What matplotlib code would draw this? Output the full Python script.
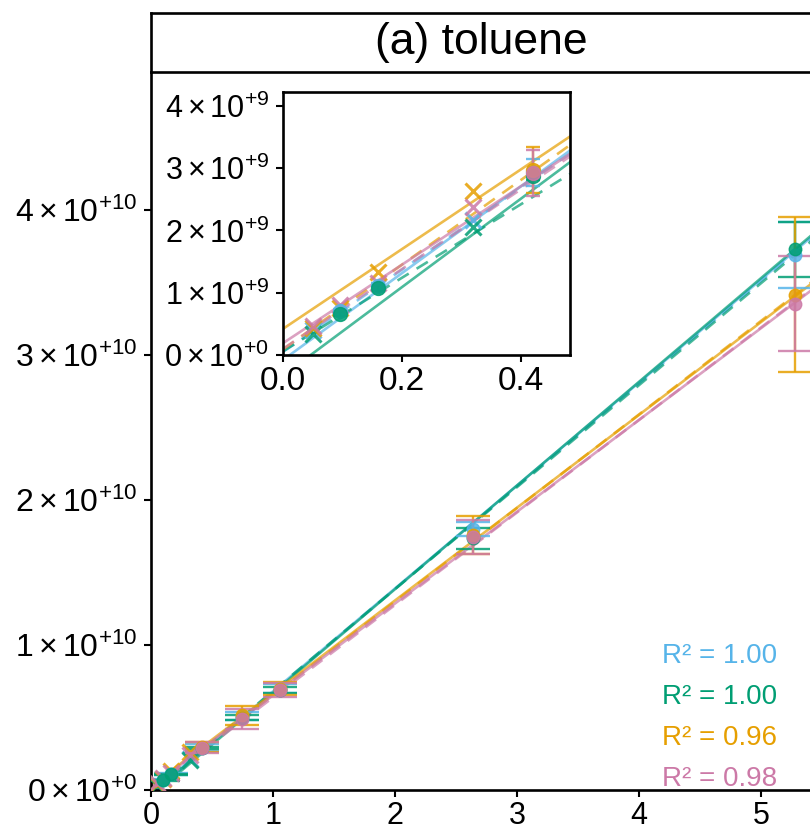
import matplotlib
matplotlib.use('Agg')
import matplotlib.pyplot as plt
import numpy as np
from matplotlib.ticker import FixedLocator, FixedFormatter

plt.rcParams['font.family'] = ['Liberation Sans', 'DejaVu Sans']
plt.rcParams['mathtext.fontset'] = 'custom'
plt.rcParams['mathtext.rm'] = 'Liberation Sans'
plt.rcParams['mathtext.it'] = 'Liberation Sans:italic'
plt.rcParams['mathtext.bf'] = 'Liberation Sans:bold'

# ---------------- data ----------------
series_names = ['blue', 'green', 'orange', 'pink']
series_colors = ['#56B4E9', '#009E73', '#E69F00', '#CC79A7']
nan = np.nan

# averaged calibration points (circles with error bars)
x_mean = [0.095, 0.16, 0.42, 0.75, 1.06, 2.64, 5.28]
blue_mean = [0.70e9, 1.10e9, 2.93e9, 5.10e9, 7.00e9, 1.800e10, 3.69e10]
blue_err = [0.04e9, 0.05e9, 0.22e9, 0.25e9, 0.30e9, 0.50e9, 2.30e9]
green_mean = [0.66e9, 1.07e9, 2.875e9, 5.00e9, 6.90e9, 1.735e10, 3.73e10]
green_err = [0.03e9, 0.04e9, 0.065e9, 0.20e9, 0.20e9, 0.75e9, 1.90e9]
orange_mean = [nan, nan, 2.97e9, 5.15e9, 7.00e9, 1.760e10, 3.415e10]
orange_err = [nan, nan, 0.37e9, 0.65e9, 0.47e9, 1.30e9, 5.35e9]
pink_mean = [nan, nan, 2.92e9, 4.90e9, 6.90e9, 1.745e10, 3.355e10]
pink_err = [nan, nan, 0.37e9, 0.70e9, 0.50e9, 1.15e9, 3.25e9]

# individual low-concentration points (crosses)
x_ind = [0.05, 0.095, 0.16, 0.32]
blue_ind = [0.40e9, nan, nan, 2.17e9]
green_ind = [0.33e9, nan, nan, 2.05e9]
orange_ind = [0.44e9, 0.76e9, 1.33e9, 2.64e9]
pink_ind = [0.47e9, 0.80e9, 1.15e9, 2.38e9]

# fitted lines (intercept, slope): main panel
main_solid_icpt = [-0.03e10, -0.045e10, 0.027e10, 0.02e10]
main_solid_slope = [0.710e10, 0.715e10, 0.640e10, 0.633e10]
main_dash_icpt = [-0.03e10, -0.02e10, 0.01e10, 0.0]
main_dash_slope = [0.708e10, 0.703e10, 0.645e10, 0.638e10]
# fitted lines: inset (fit on visible range only)
inset_solid_icpt = [-0.08e9, -0.33e9, 0.42e9, 0.19e9]
inset_solid_slope = [6.97e9, 7.10e9, 6.40e9, 6.30e9]
inset_dash_icpt = [0.05e9, 0.06e9, 0.09e9, 0.10e9]
inset_dash_slope = [6.6e9, 5.9e9, 6.8e9, 6.4e9]

r2_labels = ['R² = 1.00', 'R² = 1.00', 'R² = 0.96', 'R² = 0.98']

main_xticks = [0, 1, 2, 3, 4, 5]
main_xticklabels = ['0', '1', '2', '3', '4', '5']
main_yticks = [0, 1e10, 2e10, 3e10, 4e10]
main_yticklabels = [r'$0\times10^{+0}$', r'$1\times10^{+10}$', r'$2\times10^{+10}$',
                    r'$3\times10^{+10}$', r'$4\times10^{+10}$']
inset_xticks = [0.0, 0.2, 0.4]
inset_xticklabels = ['0.0', '0.2', '0.4']
inset_yticks = [0, 1e9, 2e9, 3e9, 4e9]
inset_yticklabels = [r'$0\times10^{+0}$', r'$1\times10^{+9}$', r'$2\times10^{+9}$',
                     r'$3\times10^{+9}$', r'$4\times10^{+9}$']
title = '(a) toluene'

means = [blue_mean, green_mean, orange_mean, pink_mean]
errs = [blue_err, green_err, orange_err, pink_err]
inds = [blue_ind, green_ind, orange_ind, pink_ind]

# ---------------- figure ----------------
W, H = 810, 834
fig = plt.figure(figsize=(W / 100, H / 100), dpi=100)


def px_axes(l, t, r, b):
    return [l / W, (H - b) / H, (r - l) / W, (b - t) / H]


ax = fig.add_axes(px_axes(151, 72, 811, 790))
ax_in = fig.add_axes(px_axes(283, 92, 570, 355))
ax_strip = fig.add_axes(px_axes(151, 13, 811, 72))

SP_LW = 1.9


def draw(a, s_icpt, s_slope, d_icpt, d_slope, capsize, ms, xms):
    for i, c in enumerate(series_colors):
        a.axline((0, s_icpt[i]), slope=s_slope[i], color=c, lw=1.9, alpha=0.7,
                 zorder=2)
        a.axline((0, d_icpt[i]), slope=d_slope[i], color=c, lw=1.9, alpha=0.7,
                 dashes=(5, 3.5), zorder=2)
    for i, c in enumerate(series_colors):
        a.plot(x_ind, inds[i], linestyle='none', marker='x', ms=xms, mew=2.2,
               color=c, alpha=0.85, zorder=3)
        a.errorbar(x_mean, means[i], yerr=errs[i], fmt='o', ms=ms, color=c,
                   ecolor=c, elinewidth=1.7, capsize=capsize, capthick=1.7,
                   alpha=0.85, zorder=3)


draw(ax, main_solid_icpt, main_solid_slope, main_dash_icpt, main_dash_slope,
     11.9, 9, 11)
ax.set_xlim(0, 660 / 122)
ax.set_ylim(0, 718 / 145 * 1e10)
ax.xaxis.set_major_locator(FixedLocator(main_xticks))
ax.xaxis.set_major_formatter(FixedFormatter(main_xticklabels))
ax.yaxis.set_major_locator(FixedLocator(main_yticks))
ax.yaxis.set_major_formatter(FixedFormatter(main_yticklabels))
ax.tick_params(axis='x', labelsize=22, length=5, width=1.5, pad=3)
ax.tick_params(axis='y', labelsize=23, length=5, width=1.5, pad=5)
for s in ['top', 'right']:
    ax.spines[s].set_visible(False)
for s in ['left', 'bottom']:
    ax.spines[s].set_linewidth(SP_LW)

# R^2 annotations
r2_base = [662.7, 703.5, 745.0, 786.5]
for i, lab in enumerate(r2_labels):
    t = ax.text((777 - 151) / 660, (790 - r2_base[i]) / 718, lab,
                transform=ax.transAxes, ha='right', va='baseline',
                fontsize=20, color=series_colors[i], zorder=5)
    t.set_clip_on(True)

# inset
draw(ax_in, inset_solid_icpt, inset_solid_slope, inset_dash_icpt, inset_dash_slope,
     5.0, 10, 11)
ax_in.set_xlim(0, 287 / 595)
ax_in.set_ylim(0, 263 / 62.3 * 1e9)
ax_in.xaxis.set_major_locator(FixedLocator(inset_xticks))
ax_in.xaxis.set_major_formatter(FixedFormatter(inset_xticklabels))
ax_in.yaxis.set_major_locator(FixedLocator(inset_yticks))
ax_in.yaxis.set_major_formatter(FixedFormatter(inset_yticklabels))
ax_in.tick_params(axis='x', labelsize=24, length=5, width=1.5, pad=3)
ax_in.tick_params(axis='y', labelsize=22, length=5, width=1.5, pad=5)
for s in ax_in.spines.values():
    s.set_linewidth(SP_LW)
ax_in.set_facecolor('white')

# facet strip
ax_strip.set_xticks([])
ax_strip.set_yticks([])
for s in ax_strip.spines.values():
    s.set_linewidth(SP_LW)
ax_strip.text(0.5, 0.5, title, transform=ax_strip.transAxes, ha='center',
              va='center', fontsize=32)

fig.savefig('out.png', dpi=100)
